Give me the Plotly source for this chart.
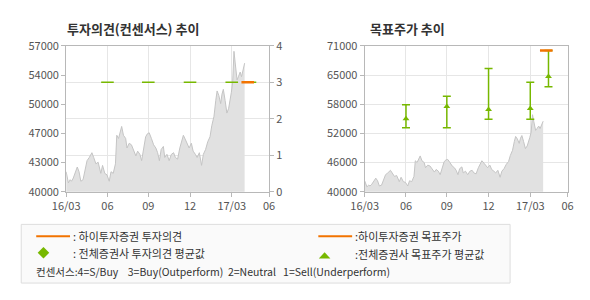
import plotly.graph_objects as go

# ---------------- data ----------------
dates = ["2016-03-01","2016-03-06","2016-03-10","2016-03-13","2016-03-17","2016-03-21","2016-03-26","2016-03-30",
         "2016-04-03","2016-04-08","2016-04-13","2016-04-17","2016-04-22","2016-04-28",
         "2016-05-02","2016-05-07","2016-05-12","2016-05-18","2016-05-22","2016-05-27",
         "2016-06-01","2016-06-06","2016-06-10","2016-06-15","2016-06-20","2016-06-23","2016-06-27","2016-06-30",
         "2016-07-04","2016-07-08","2016-07-13","2016-07-16","2016-07-21","2016-07-26","2016-07-31",
         "2016-08-05","2016-08-09","2016-08-14","2016-08-18","2016-08-23","2016-08-27","2016-08-31",
         "2016-09-04","2016-09-09","2016-09-14","2016-09-19","2016-09-23","2016-09-27",
         "2016-10-01","2016-10-06","2016-10-09","2016-10-14","2016-10-19","2016-10-24","2016-10-29",
         "2016-11-02","2016-11-07","2016-11-12","2016-11-16","2016-11-20","2016-11-25","2016-11-29",
         "2016-12-03","2016-12-08","2016-12-12","2016-12-17","2016-12-21","2016-12-26","2016-12-31",
         "2017-01-04","2017-01-09","2017-01-14","2017-01-19","2017-01-23","2017-01-28",
         "2017-02-01","2017-02-04","2017-02-08","2017-02-12","2017-02-15","2017-02-18","2017-02-22","2017-02-26",
         "2017-03-02","2017-03-05","2017-03-08","2017-03-11","2017-03-14","2017-03-17","2017-03-21","2017-03-24",
         "2017-03-28","2017-03-31","2017-04-04","2017-04-07"]
prices = [42330,41030,41400,41220,41590,42140,42880,42330,41220,41400,
          42880,43620,43990,44550,43990,43250,43440,42140,43070,42140,
          41960,41220,42330,42140,43250,46580,46210,46760,47610,46580,
          46210,45100,45650,45470,44730,44180,44730,44360,43620,45100,
          46400,46760,46870,46210,45470,45100,44550,43620,44920,45280,
          43990,44360,43620,44360,44550,43990,43800,45100,46030,46580,
          46030,45470,45100,45650,44730,44360,43990,44550,43070,44360,
          44920,45840,46400,47690,48800,50650,51750,51200,50280,51380,
          51940,50650,49170,49720,50460,51570,52680,56370,54890,53040,
          53410,53960,53410,54340,54990]

# consensus survey points (all brokers)
survey_dates = ["2016-06-02", "2016-09-02", "2016-12-05", "2017-03-09", "2017-04-19"]
cons_opinion = [3, 3, 3, 3, 3]
target_mean = [55500, 58100, 57500, 57700, 64500]
target_high = [58500, 60300, 66200, 63300, 70000]
target_low = [53600, 53600, 55400, 55400, 62300]

# Hi Investment & Securities
hi_date = ["2017-04-14"]
hi_opinion = [3]
hi_target = [70000]

# axes
x_range = ["2016-03-01", "2017-06-01"]
x_tickvals = ["2016-03-01", "2016-06-02", "2016-09-02", "2016-12-05", "2017-03-09", "2017-06-01"]
x_ticktext = ["16/03", "06", "09", "12", "17/03", "06"]
left_tickvals = [40000, 43400, 46800, 50200, 53600, 57000]
left_ticktext = ["40000", "43000", "47000", "50000", "54000", "57000"]
opinion_ticks = [0, 1, 2, 3, 4]
right_tickvals = [40000, 46200, 52400, 58600, 64800, 71000]
right_ticktext = ["40000", "46000", "52000", "58000", "65000", "71000"]

# ---------------- styling ----------------
W, H = 590, 300
FONT = "Noto Sans CJK KR, DejaVu Sans, sans-serif"
GREEN = "#77b800"
ORANGE = "#f27300"
GRID = "#e6e6e6"
FRAME = "#b8b8b8"
TICKC = "#555555"

def px_x(p):
    return p / W

def px_y(p):
    return 1 - p / H

fig = go.Figure()

# left chart: price area
fig.add_trace(go.Scatter(x=dates, y=prices, xaxis="x", yaxis="y", mode="lines",
                         line=dict(color="#c4c4c4", width=1), fill="tozeroy",
                         fillcolor="#e1e1e1", hoverinfo="skip", showlegend=False))
# consensus opinion dashes
fig.add_trace(go.Scatter(x=survey_dates, y=cons_opinion, xaxis="x", yaxis="y2", mode="markers",
                         marker=dict(symbol="line-ew", size=9, line=dict(color=GREEN, width=1.5)),
                         showlegend=False))
fig.add_trace(go.Scatter(x=hi_date, y=hi_opinion, xaxis="x", yaxis="y2", mode="markers",
                         marker=dict(symbol="line-ew", size=9, line=dict(color=ORANGE, width=2.5)),
                         showlegend=False))

# right chart: price area
fig.add_trace(go.Scatter(x=dates, y=prices, xaxis="x3", yaxis="y3", mode="lines",
                         line=dict(color="#c4c4c4", width=1), fill="tozeroy",
                         fillcolor="#e1e1e1", hoverinfo="skip", showlegend=False))
err_plus = [h - m for h, m in zip(target_high, target_mean)]
err_minus = [m - l for l, m in zip(target_low, target_mean)]
fig.add_trace(go.Scatter(x=survey_dates, y=target_mean, xaxis="x3", yaxis="y3", mode="markers",
                         marker=dict(symbol="triangle-up", size=6, color=GREEN),
                         error_y=dict(type="data", symmetric=False, array=err_plus,
                                      arrayminus=err_minus, color=GREEN, thickness=1.5, width=4),
                         showlegend=False))
fig.add_trace(go.Scatter(x=hi_date, y=hi_target, xaxis="x3", yaxis="y3", mode="markers",
                         marker=dict(symbol="line-ew", size=9, line=dict(color=ORANGE, width=2.5)),
                         showlegend=False))

ydom = [px_y(193), px_y(39)]
common_x = dict(type="date", range=x_range, tickvals=x_tickvals, ticktext=x_ticktext,
                showgrid=True, gridcolor=GRID, gridwidth=1, showline=True, linecolor=FRAME,
                mirror=True, ticks="outside", ticklen=4, tickcolor=FRAME,
                tickfont=dict(family=FONT, size=11, color=TICKC), zeroline=False, fixedrange=True)

fig.update_layout(
    width=W, height=H, margin=dict(l=0, r=0, t=0, b=0),
    paper_bgcolor="white", plot_bgcolor="white", showlegend=False,
    xaxis=dict(domain=[px_x(54), px_x(264)], anchor="y", **common_x),
    yaxis=dict(domain=ydom, range=[40000, 57000], tickvals=left_tickvals, ticktext=left_ticktext,
               showgrid=False, showline=True, linecolor=FRAME, ticks="outside", ticklen=4,
               tickcolor=FRAME, tickfont=dict(family=FONT, size=11, color=TICKC),
               zeroline=False, anchor="x"),
    yaxis2=dict(overlaying="y", side="right", anchor="x", range=[0, 4], tickvals=opinion_ticks,
                showgrid=True, gridcolor=GRID, showline=True, linecolor=FRAME, ticks="outside",
                ticklen=4, tickcolor=FRAME, tickfont=dict(family=FONT, size=11, color=TICKC),
                zeroline=False),
    xaxis3=dict(domain=[px_x(363), px_x(573)], anchor="y3", **common_x),
    yaxis3=dict(domain=ydom, range=[40000, 71000], tickvals=right_tickvals, ticktext=right_ticktext,
                showgrid=True, gridcolor=GRID, showline=True, linecolor=FRAME, mirror=True,
                ticks="outside", ticklen=4, tickcolor=FRAME,
                tickfont=dict(family=FONT, size=11, color=TICKC), zeroline=False, anchor="x3"),
)

annotations = []
def txt(x, y, s, size=11, bold=False, color="#333333"):
    annotations.append(dict(x=px_x(x), y=px_y(y), xref="paper", yref="paper", text=("<b>%s</b>" % s) if bold else s,
                            showarrow=False, xanchor="left", yanchor="middle",
                            font=dict(family=FONT, size=size, color=color)))

txt(53, 21, "투자의견(컨센서스) 추이", size=13, bold=True)
txt(366, 21, "목표주가 추이", size=13, bold=True)

# legend box
shapes = [
    dict(type="rect", xref="paper", yref="paper", x0=px_x(7.5), x1=px_x(513.5), y0=px_y(289.5), y1=px_y(227.5),
         fillcolor="#fafafa", line=dict(color="#dddddd", width=1), layer="below"),
    dict(type="line", xref="paper", yref="paper", x0=px_x(23), x1=px_x(58), y0=px_y(240), y1=px_y(240),
         line=dict(color=ORANGE, width=2)),
    dict(type="line", xref="paper", yref="paper", x0=px_x(315), x1=px_x(350), y0=px_y(240), y1=px_y(240),
         line=dict(color=ORANGE, width=2)),
    dict(type="path", xref="paper", yref="paper",
         path="M %f %f L %f %f L %f %f L %f %f Z" % (px_x(24.5), px_y(257.5), px_x(30.5), px_y(251.5),
                                                     px_x(36.5), px_y(257.5), px_x(30.5), px_y(263.5)),
         fillcolor=GREEN, line=dict(color=GREEN, width=0)),
    dict(type="path", xref="paper", yref="paper",
         path="M %f %f L %f %f L %f %f Z" % (px_x(315.5), px_y(263.5), px_x(321.5), px_y(257), px_x(327.5), px_y(263.5)),
         fillcolor=GREEN, line=dict(color=GREEN, width=0)),
]

txt(59, 240, ": 하이투자증권 투자의견")
txt(59, 258, ": 전체증권사 투자의견 평균값")
txt(351, 240, ":하이투자증권 목표주가")
txt(351, 259, ":전체증권사 목표주가 평균값")
txt(21, 277, "컨센서스:4=S/Buy&nbsp;&nbsp;&nbsp;&nbsp;3=Buy(Outperform)&nbsp;&nbsp;2=Neutral&nbsp;&nbsp;&nbsp;1=Sell(Underperform)", size=10.5)

fig.update_layout(annotations=annotations, shapes=shapes)
fig.write_html("out.html")
